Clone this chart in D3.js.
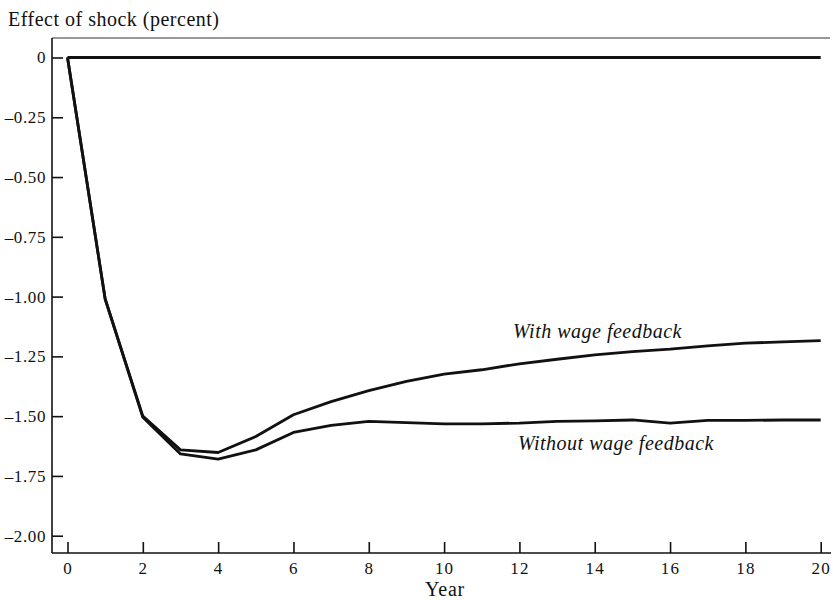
<!DOCTYPE html>
<html>
<head>
<meta charset="utf-8">
<script src="https://cdn.jsdelivr.net/npm/d3@7"></script>
<style>
  html, body { margin: 0; padding: 0; background: #fff; }
  svg { display: block; }
  text { font-family: "Liberation Serif", "Times New Roman", serif; fill: #111; }
</style>
</head>
<body>
<svg id="chart" width="833" height="600"></svg>
<script>
// ---- data ----
const years = [0,1,2,3,4,5,6,7,8,9,10,11,12,13,14,15,16,17,18,19,20];
const withFeedback = [0, -1.01, -1.50, -1.641, -1.652, -1.585, -1.494, -1.439, -1.393, -1.355, -1.324, -1.306, -1.281, -1.262, -1.244, -1.230, -1.220, -1.206, -1.195, -1.189, -1.184];
const withoutFeedback = [0, -1.01, -1.505, -1.658, -1.680, -1.641, -1.568, -1.539, -1.522, -1.527, -1.532, -1.532, -1.529, -1.522, -1.520, -1.516, -1.529, -1.518, -1.518, -1.516, -1.516];
const baseline = [0,0,0,0,0,0,0,0,0,0,0,0,0,0,0,0,0,0,0,0,0];
const xTicks = [0,2,4,6,8,10,12,14,16,18,20];
const yTicks = [0,-0.25,-0.5,-0.75,-1.0,-1.25,-1.5,-1.75,-2.0];
const yTickLabels = ["0","\u20130.25","\u20130.50","\u20130.75","\u20131.00","\u20131.25","\u20131.50","\u20131.75","\u20132.00"];
const seriesLabels = ["With wage feedback", "Without wage feedback"];
const titleText = "Effect of shock (percent)";
const xTitle = "Year";

// ---- layout ----
const svg = d3.select("#chart");
const frameLeft = 52, frameTop = 38, frameBottom = 553, frameRight = 831;
const x = d3.scaleLinear().domain([0, 20]).range([67.5, 820.7]);
const y = d3.scaleLinear().domain([0, -2]).range([57.5, 535.7]);

// frame (top, left, bottom)
svg.append("line").attr("x1", frameLeft).attr("x2", frameRight - 1).attr("y1", frameTop).attr("y2", frameTop)
  .attr("stroke", "#333").attr("stroke-width", 1.2);
svg.append("line").attr("x1", frameLeft).attr("x2", frameLeft).attr("y1", frameTop).attr("y2", frameBottom)
  .attr("stroke", "#111").attr("stroke-width", 1.6);
svg.append("line").attr("x1", frameLeft).attr("x2", frameRight).attr("y1", frameBottom).attr("y2", frameBottom)
  .attr("stroke", "#111").attr("stroke-width", 1.6);

// y axis
const yAxis = d3.axisLeft(y).tickValues(yTicks)
  .tickFormat((d, i) => yTickLabels[i])
  .tickSizeInner(-11).tickSizeOuter(0).tickPadding(6);
const gy = svg.append("g").attr("transform", `translate(${frameLeft},0)`).call(yAxis);
gy.select(".domain").remove();
gy.selectAll(".tick line").attr("stroke", "#111").attr("stroke-width", 1.6);
gy.selectAll(".tick text").attr("font-size", 17).attr("letter-spacing", 0.6)
  .style("font-family", "'Liberation Serif', serif").attr("fill", "#111");

// x axis
const xAxis = d3.axisBottom(x).tickValues(xTicks).tickFormat(d3.format("d"))
  .tickSizeInner(-11).tickSizeOuter(0).tickPadding(9);
const gx = svg.append("g").attr("transform", `translate(0,${frameBottom})`).call(xAxis);
gx.select(".domain").remove();
gx.selectAll(".tick line").attr("stroke", "#111").attr("stroke-width", 1.6);
gx.selectAll(".tick text").attr("font-size", 17).attr("letter-spacing", 1.2)
  .style("font-family", "'Liberation Serif', serif").attr("fill", "#111");

// lines
const line = d3.line().x((d, i) => x(years[i])).y(d => y(d));
[baseline, withFeedback, withoutFeedback].forEach(s => {
  svg.append("path").datum(s).attr("d", line)
    .attr("fill", "none").attr("stroke", "#111").attr("stroke-width", 2.8)
    .attr("stroke-linejoin", "round");
});

// series labels
svg.append("text").attr("x", x(11.83)).attr("y", y(-1.173))
  .attr("font-size", 20).attr("font-style", "italic").attr("letter-spacing", 0.5)
  .text(seriesLabels[0]);
svg.append("text").attr("x", x(11.96)).attr("y", y(-1.642))
  .attr("font-size", 20).attr("font-style", "italic").attr("letter-spacing", 0.5)
  .text(seriesLabels[1]);

// titles
svg.append("text").attr("x", 8).attr("y", 26).attr("font-size", 20).attr("letter-spacing", 0.5)
  .text(titleText);
svg.append("text").attr("x", 445).attr("y", 596).attr("text-anchor", "middle")
  .attr("font-size", 20).attr("letter-spacing", 0.8).text(xTitle);
</script>
</body>
</html>
